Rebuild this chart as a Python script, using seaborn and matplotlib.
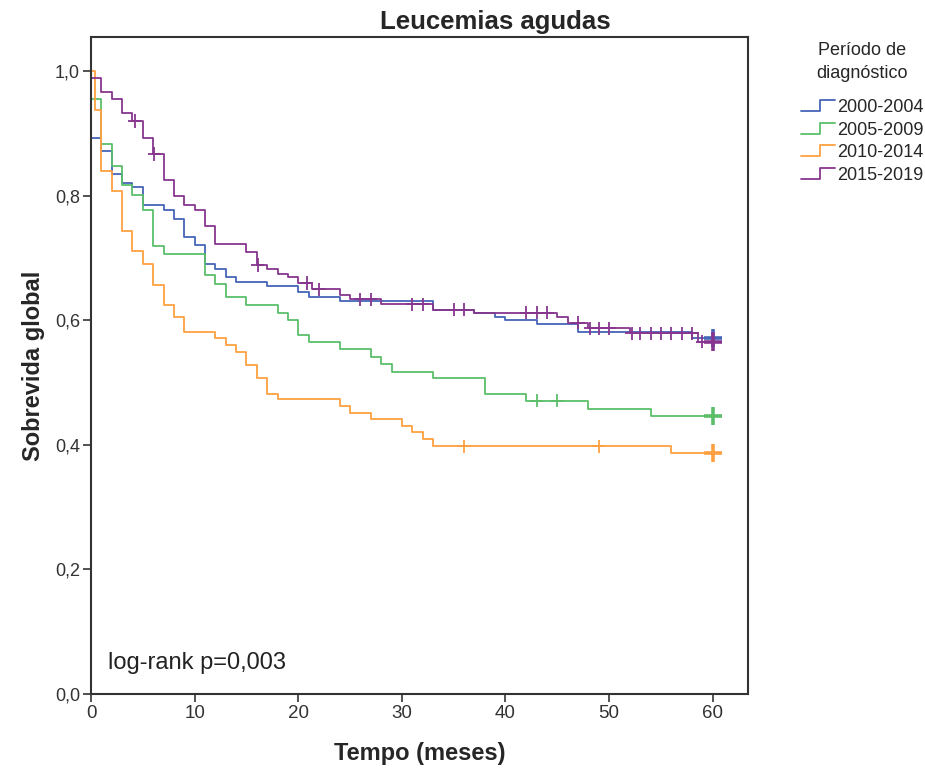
import numpy as np
import pandas as pd
import matplotlib
matplotlib.use("Agg")
import matplotlib.pyplot as plt
import seaborn as sns
from matplotlib.lines import Line2D
from matplotlib.legend_handler import HandlerBase

# -----------------------------------------
#  Kaplan-Meier: Leucemias agudas
# -----------------------------------------

groups = ["2000-2004", "2005-2009", "2010-2014", "2015-2019"]
colors = ["#4565b8", "#5bbf6a", "#ffa040", "#87368f"]

# step times (months) and survival after each step
blue_t = [0, 0, 1, 2, 3, 4, 5, 7, 8, 9, 10, 11, 12, 13, 14, 17, 20, 21, 24, 33, 37, 39, 40, 43, 47, 58, 60]
blue_s = [1.0, 0.893, 0.872, 0.835, 0.821, 0.814, 0.785, 0.778, 0.763, 0.734, 0.721, 0.690, 0.683, 0.670,
          0.661, 0.655, 0.646, 0.638, 0.631, 0.617, 0.612, 0.606, 0.601, 0.594, 0.581, 0.571, 0.571]

green_t = [0, 0, 1, 2, 3, 4, 5, 6, 7, 11, 12, 13, 15, 18, 19, 20, 21, 24, 27, 28, 29, 33, 38, 42, 48, 54, 60]
green_s = [1.0, 0.955, 0.883, 0.848, 0.817, 0.802, 0.777, 0.719, 0.707, 0.673, 0.659, 0.637, 0.624, 0.612,
           0.600, 0.576, 0.566, 0.554, 0.541, 0.530, 0.517, 0.507, 0.482, 0.471, 0.458, 0.446, 0.446]

orange_t = [0, 0.4, 1, 2, 3, 4, 5, 6, 7, 8, 9, 12, 13, 14, 15, 16, 17, 18, 24, 25, 27, 30, 31, 32, 33, 56, 60]
orange_s = [1.0, 0.937, 0.840, 0.808, 0.744, 0.711, 0.690, 0.657, 0.625, 0.605, 0.582, 0.571, 0.561, 0.549,
            0.528, 0.507, 0.482, 0.473, 0.462, 0.452, 0.441, 0.430, 0.420, 0.409, 0.398, 0.387, 0.387]

purple_t = [0, 0, 1, 2, 3, 4, 5, 6, 7, 8, 9, 10, 11, 12, 15, 16, 17, 18, 19, 20, 21.3, 24, 25, 28, 33, 37,
            45, 46, 48, 52, 58.6, 60]
purple_s = [1.0, 0.989, 0.967, 0.955, 0.933, 0.920, 0.893, 0.867, 0.826, 0.799, 0.785, 0.778, 0.751, 0.723,
            0.710, 0.689, 0.682, 0.675, 0.669, 0.660, 0.650, 0.640, 0.634, 0.626, 0.617, 0.612, 0.605, 0.596,
            0.587, 0.579, 0.566, 0.566]

# censored observations (months)
blue_cens = []
green_cens = [43, 45]
orange_cens = [36, 49]
purple_cens = [4.2, 6.1, 16.1, 20.8, 22, 26, 27, 31, 32, 35, 36, 42, 43, 44, 47, 48.2, 49, 50,
               52.2, 53, 54, 55, 56, 57, 58, 59]
end_time = 60

times = [blue_t, green_t, orange_t, purple_t]
surv = [blue_s, green_s, orange_s, purple_s]
cens = [blue_cens, green_cens, orange_cens, purple_cens]

curves = pd.concat([pd.DataFrame({"t": t, "s": s, "grupo": g}) for t, s, g in zip(times, surv, groups)],
                   ignore_index=True)


def level_at(t, s, c):
    idx = np.searchsorted(np.array(t), c, side="right") - 1
    return np.array(s)[idx]


cens_rows = []
end_rows = []
for t, s, c, g in zip(times, surv, cens, groups):
    for ci in c:
        cens_rows.append({"t": ci, "s": level_at(t, s, ci), "grupo": g})
    end_rows.append({"t": end_time, "s": level_at(t, s, end_time), "grupo": g})
cens_df = pd.DataFrame(cens_rows)
end_df = pd.DataFrame(end_rows)

# ------------------------------
# Plot
# ------------------------------
sns.set_style("white")
plt.rcParams["font.family"] = ["Liberation Sans", "DejaVu Sans"]

palette = dict(zip(groups, colors))

fig = plt.figure(figsize=(9.25, 7.68), dpi=100)
ax = fig.add_axes([0.0984, 0.0964, 0.7102, 0.8554])

sns.lineplot(data=curves, x="t", y="s", hue="grupo", palette=palette, estimator=None, sort=False,
             drawstyle="steps-post", linewidth=1.3, legend=False, ax=ax)
sns.scatterplot(data=cens_df, x="t", y="s", hue="grupo", palette=palette, marker="+", s=90,
                linewidth=1.3, legend=False, ax=ax, zorder=3)
sns.scatterplot(data=end_df, x="t", y="s", hue="grupo", palette=palette, marker="+", s=170,
                linewidth=2.6, legend=False, ax=ax, zorder=4)

ax.set_xlim(0, 63.4)
ax.set_ylim(0, 1.055)
ax.set_xticks(range(0, 61, 10))
ax.set_yticks(np.arange(0, 1.01, 0.2))
ax.set_yticklabels([f"{v:.1f}".replace(".", ",") for v in np.arange(0, 1.01, 0.2)], fontsize=13,
                   color="#333333")
ax.set_xticklabels([str(v) for v in range(0, 61, 10)], fontsize=13.5, color="#333333")
ax.tick_params(direction="out", length=6, width=1.2, color="#333333", left=True, bottom=True, pad=2)
for sp in ax.spines.values():
    sp.set_visible(True)
    sp.set_color("#333333")
    sp.set_linewidth(1.5)

ax.set_xlabel("Tempo (meses)", fontsize=17, fontweight="bold", labelpad=14)
ax.set_ylabel("Sobrevida global", fontsize=17, fontweight="bold", labelpad=7)
fig.text(0.535, 0.972, "Leucemias agudas", ha="center", va="center", fontsize=18.5, fontweight="bold")
ax.text(1.6, 0.04, "log-rank p=0,003", fontsize=17, color="#222222")


class StepHandler(HandlerBase):
    def create_artists(self, legend, orig_handle, xdescent, ydescent, width, height, fontsize, trans):
        x0, y0 = -xdescent, -ydescent
        xs = [x0, x0 + width * 0.55, x0 + width * 0.55, x0 + width]
        ys = [y0 + height * 0.1, y0 + height * 0.1, y0 + height * 0.9, y0 + height * 0.9]
        line = Line2D(xs, ys, color=orig_handle.get_color(), lw=1.3)
        line.set_transform(trans)
        return [line]


handles = [Line2D([], [], color=c) for c in colors]
leg = fig.legend(handles, groups, loc="upper left", bbox_to_anchor=(0.866, 0.945), frameon=False,
                 title="Período de\ndiagnóstico", fontsize=13, title_fontsize=13, handlelength=1.9,
                 handleheight=0.8, handletextpad=0.1, labelspacing=0.3, borderpad=0, borderaxespad=0,
                 handler_map={Line2D: StepHandler()})
leg._legend_box.align = "center"
leg._legend_box.sep = 12
leg.get_title().set_multialignment("center")
leg.get_title().set_linespacing(1.45)

fig.savefig("out.png", dpi=100)
